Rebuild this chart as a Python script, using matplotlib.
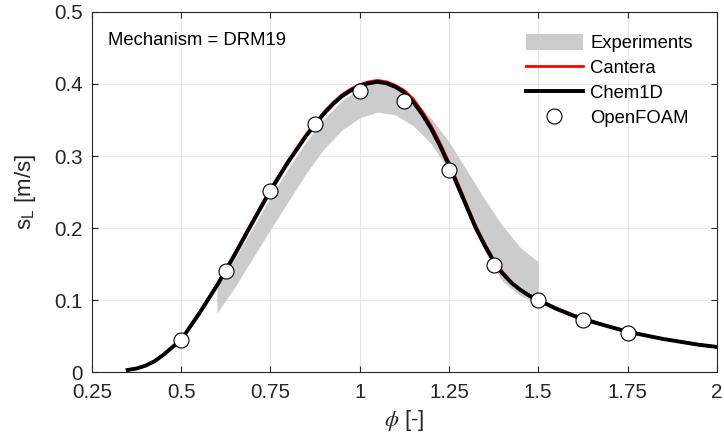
import numpy as np
import matplotlib
matplotlib.use('Agg')
import matplotlib.pyplot as plt

plt.rcParams['font.family'] = ['Liberation Sans', 'DejaVu Sans']
plt.rcParams['mathtext.fontset'] = 'stix'

# laminar flame speed vs equivalence ratio
phi_sim = [0.35, 0.375, 0.40, 0.425, 0.45, 0.50, 0.55, 0.60, 0.65, 0.70, 0.75,
           0.80, 0.85, 0.90, 0.925, 0.95, 0.975, 1.00, 1.025, 1.05, 1.075,
           1.10, 1.125, 1.15, 1.175, 1.20, 1.225, 1.25, 1.275, 1.30, 1.325,
           1.35, 1.375, 1.40, 1.425, 1.45, 1.475, 1.50, 1.55, 1.60, 1.65,
           1.70, 1.75, 1.80, 1.85, 1.90, 1.95, 2.00]
chem1d = [0.003, 0.005, 0.009, 0.015, 0.024, 0.045, 0.081, 0.120, 0.163, 0.208, 0.252,
          0.292, 0.328, 0.359, 0.372, 0.383, 0.391, 0.397, 0.401, 0.403, 0.401,
          0.396, 0.388, 0.375, 0.358, 0.338, 0.314, 0.287, 0.258, 0.229, 0.200,
          0.176, 0.154, 0.137, 0.124, 0.114, 0.106, 0.100, 0.088, 0.078, 0.070,
          0.063, 0.056, 0.051, 0.046, 0.042, 0.038, 0.035]
cantera = [0.003, 0.005, 0.009, 0.015, 0.024, 0.045, 0.082, 0.121, 0.165, 0.210, 0.254,
           0.294, 0.330, 0.361, 0.374, 0.385, 0.393, 0.399, 0.403, 0.405, 0.403,
           0.398, 0.391, 0.379, 0.362, 0.342, 0.318, 0.291, 0.262, 0.232, 0.203,
           0.178, 0.156, 0.139, 0.125, 0.115, 0.107, 0.101, 0.089, 0.079, 0.071,
           0.063, 0.057, 0.051, 0.046, 0.042, 0.038, 0.035]

phi_foam = [0.5, 0.625, 0.75, 0.875, 1.0, 1.125, 1.25, 1.375, 1.5, 1.625, 1.75]
sl_foam = [0.044, 0.141, 0.252, 0.344, 0.390, 0.376, 0.281, 0.149, 0.100, 0.072, 0.054]

phi_exp = [0.6, 0.65, 0.7, 0.75, 0.8, 0.85, 0.9, 0.95, 1.0, 1.05, 1.1, 1.15,
           1.2, 1.25, 1.3, 1.35, 1.4, 1.45, 1.5]
exp_low = [0.082, 0.118, 0.158, 0.198, 0.237, 0.276, 0.310, 0.336, 0.353, 0.361,
           0.357, 0.342, 0.317, 0.280, 0.224, 0.168, 0.126, 0.106, 0.095]
exp_high = [0.120, 0.158, 0.200, 0.243, 0.283, 0.320, 0.352, 0.377, 0.394, 0.404,
            0.400, 0.378, 0.352, 0.320, 0.280, 0.240, 0.203, 0.173, 0.153]

xticks = [0.25, 0.5, 0.75, 1, 1.25, 1.5, 1.75, 2]
xticklabels = ['0.25', '0.5', '0.75', '1', '1.25', '1.5', '1.75', '2']
yticks = [0, 0.1, 0.2, 0.3, 0.4, 0.5]
yticklabels = ['0', '0.1', '0.2', '0.3', '0.4', '0.5']

fig = plt.figure(figsize=(7.24, 4.43), dpi=100)
ax = fig.add_axes([0.127, 0.160, 0.863, 0.813])

ax.fill_between(phi_exp, exp_low, exp_high, color='#cccccc', lw=0, label='Experiments')
ax.plot(phi_sim, cantera, color='#ff0000', lw=2.0, label='Cantera')
ax.plot(phi_sim, chem1d, color='k', lw=2.8, label='Chem1D')
ax.plot(phi_foam, sl_foam, 'o', ms=10.8, mfc='w', mec='k', mew=0.8, label='OpenFOAM')

ax.set_xlim(0.25, 2)
ax.set_ylim(0, 0.5)
ax.set_xticks(xticks)
ax.set_xticklabels(xticklabels)
ax.set_yticks(yticks)
ax.set_yticklabels(yticklabels)
ax.tick_params(direction='in', length=4, width=0.8, colors='#262626',
               labelsize=14.8, top=True, right=True)
ax.tick_params(axis='x', pad=8)
ax.tick_params(axis='y', pad=6.5)
ax.grid(True, color='#e6e6e6', lw=0.8)
ax.set_axisbelow(True)
for s in ax.spines.values():
    s.set_color('#262626')
    s.set_linewidth(0.8)

ax.set_xlabel(r'$\phi$ [-]', fontsize=16, color='#262626', labelpad=4)
ax.set_ylabel(r's$_\mathregular{L}$ [m/s]', fontsize=16, color='#262626', labelpad=12)

ax.text(0.026, 0.922, 'Mechanism = DRM19', transform=ax.transAxes,
        fontsize=13.3, va='center', ha='left', color='k')

ax.legend(loc='upper left', bbox_to_anchor=(0.694, 0.940), frameon=False,
          fontsize=13.3, borderpad=0, borderaxespad=0, handlelength=3.1,
          handletextpad=0.4, labelspacing=0.37, handleheight=0.95)

plt.savefig('out.png', dpi=100)
